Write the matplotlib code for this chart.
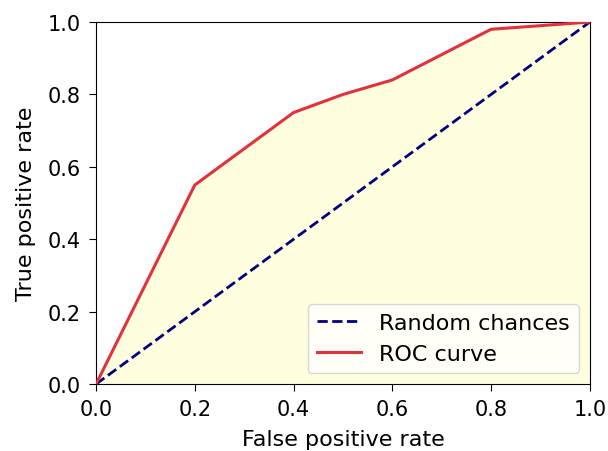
import matplotlib
matplotlib.use('Agg')
import matplotlib.pyplot as plt

# ROC points
fpr = [0.0, 0.2, 0.4, 0.5, 0.6, 0.8, 1.0]
tpr = [0.0, 0.55, 0.75, 0.80, 0.84, 0.98, 1.0]
chance = [0.0, 1.0]

fig, ax = plt.subplots(figsize=(6.08, 4.52), dpi=100)
plt.subplots_adjust(left=0.158, right=0.970, top=0.949, bottom=0.148)

ax.fill_between(fpr, tpr, 0, color='#ffffe0', zorder=1)
ax.plot(chance, chance, color='navy', lw=2, linestyle='--', label='Random chances', zorder=3)
ax.plot(fpr, tpr, color='#e2313c', lw=2.2, label='ROC curve', zorder=4)

ax.set_xlim(0, 1)
ax.set_ylim(0, 1)
ax.set_xlabel('False positive rate', fontsize=16, labelpad=7)
ax.set_ylabel('True positive rate', fontsize=16, labelpad=8)
ax.tick_params(labelsize=15, length=5, pad=6)
ax.legend(loc='lower right', fontsize=16)

plt.savefig('out.png', dpi=100)
